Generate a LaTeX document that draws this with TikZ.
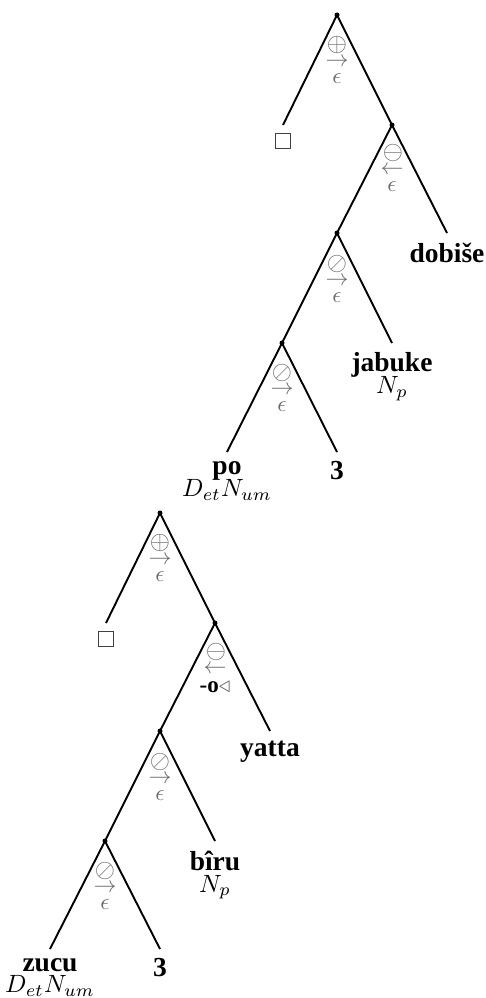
\documentclass[tikz,border=0pt]{standalone}
\usepackage{amssymb}
\usepackage{fontspec}
\newfontfamily\wordfont{Liberation Serif}
\definecolor{annc}{gray}{0.42}
\begin{document}
\begin{tikzpicture}[x=1pt,y=-1pt,
  branch/.style={line width=1.9pt},
  dotnode/.style={circle,fill=black,inner sep=0pt,minimum size=5pt},
  ann/.style={text=annc,inner sep=0pt,scale=2.3},
  opsym/.style={text=annc,inner sep=0pt,scale=2.6},
  word/.style={font=\wordfont\bfseries,scale=2.75,anchor=north},
  cat/.style={scale=2.5,anchor=base,inner sep=0pt},
  hole/.style={draw=black!75,line width=1pt,minimum size=15pt,inner sep=0pt}]
\useasboundingbox (0,0) rectangle (486,998);

% ---------- upper tree ----------
\node[dotnode] (a1) at (337,15) {};
\node[dotnode] (a2) at (392,125) {};
\node[dotnode] (a3) at (337,233) {};
\node[dotnode] (a4) at (282,343) {};
\coordinate (aL1) at (283,125);
\coordinate (aL2) at (447,233);
\coordinate (aL3) at (392,343);
\coordinate (aL4) at (227,452);
\coordinate (aL5) at (337,452);
\draw[branch] (a1.center) -- (aL1);
\draw[branch] (a1.center) -- (a2.center);
\draw[branch] (a2.center) -- (a3.center);
\draw[branch] (a2.center) -- (aL2);
\draw[branch] (a3.center) -- (a4.center);
\draw[branch] (a3.center) -- (aL3);
\draw[branch] (a4.center) -- (aL4);
\draw[branch] (a4.center) -- (aL5);

\node[opsym] (a1s) at (337,45) {$\oplus$};
\node[ann] (a1a) at (337,62) {$\rightarrow$};
\node[ann] (a1e) at (337,79) {$\epsilon$};
\node[opsym] (a2s) at (393,153) {$\ominus$};
\node[ann] (a2a) at (392,170) {$\leftarrow$};
\node[ann] (a2e) at (392,187) {$\epsilon$};
\node[opsym] (a3s) at (337,264) {$\oslash$};
\node[ann] (a3a) at (337,281) {$\rightarrow$};
\node[ann] (a3e) at (337,298) {$\epsilon$};
\node[opsym] (a4s) at (282,373) {$\oslash$};
\node[ann] (a4a) at (282,390) {$\rightarrow$};
\node[ann] (a4e) at (282,407) {$\epsilon$};

\node[hole] (abox) at (283,141) {};
\node[word] (adob) at (aL2) {dobiše};
\node[word] (ajab) at (aL3) {jabuke};
\node[cat] (ajabc) at ([yshift=-22pt]ajab.base) {$N_p$};
\node[word] (apo) at (aL4) {po};
\node[cat] (apoc) at ([yshift=-22pt]apo.base) {$D_{et}N_{um}$};
\node[word] (athree) at (aL5) {3};

% ---------- lower tree ----------
\begin{scope}[shift={(-177,498)}]
\node[dotnode] (b1) at (337,15) {};
\node[dotnode] (b2) at (392,125) {};
\node[dotnode] (b3) at (337,233) {};
\node[dotnode] (b4) at (282,343) {};
\coordinate (bL1) at (283,125);
\coordinate (bL2) at (447,233);
\coordinate (bL3) at (392,343);
\coordinate (bL4) at (227,451);
\coordinate (bL5) at (337,451);
\draw[branch] (b1.center) -- (bL1);
\draw[branch] (b1.center) -- (b2.center);
\draw[branch] (b2.center) -- (b3.center);
\draw[branch] (b2.center) -- (bL2);
\draw[branch] (b3.center) -- (b4.center);
\draw[branch] (b3.center) -- (bL3);
\draw[branch] (b4.center) -- (bL4);
\draw[branch] (b4.center) -- (bL5);

\node[opsym] (b1s) at (337,45) {$\oplus$};
\node[ann] (b1a) at (337,62) {$\rightarrow$};
\node[ann] (b1e) at (337,79) {$\epsilon$};
\node[opsym] (b2s) at (393,154) {$\ominus$};
\node[ann] (b2a) at (392,171) {$\leftarrow$};
\node[ann] (b2e) at (392,189) {\textcolor{black}{\wordfont\bfseries -o}$\triangleleft$};
\node[opsym] (b3s) at (337,264) {$\oslash$};
\node[ann] (b3a) at (337,281) {$\rightarrow$};
\node[ann] (b3e) at (337,298) {$\epsilon$};
\node[opsym] (b4s) at (282,373) {$\oslash$};
\node[ann] (b4a) at (282,390) {$\rightarrow$};
\node[ann] (b4e) at (282,407) {$\epsilon$};

\node[hole] (bbox) at (283,141) {};
\node[word] (byat) at (bL2) {yatta};
\node[word] (bbir) at (bL3) {bîru};
\node[cat] (bbirc) at ([yshift=-22pt]bbir.base) {$N_p$};
\node[word] (bzuc) at (bL4) {zucu};
\node[cat] (bzucc) at ([yshift=-21pt]bzuc.base) {$D_{et}N_{um}$};
\node[word] (bthree) at (bL5) {3};
\end{scope}
\end{tikzpicture}
\end{document}
